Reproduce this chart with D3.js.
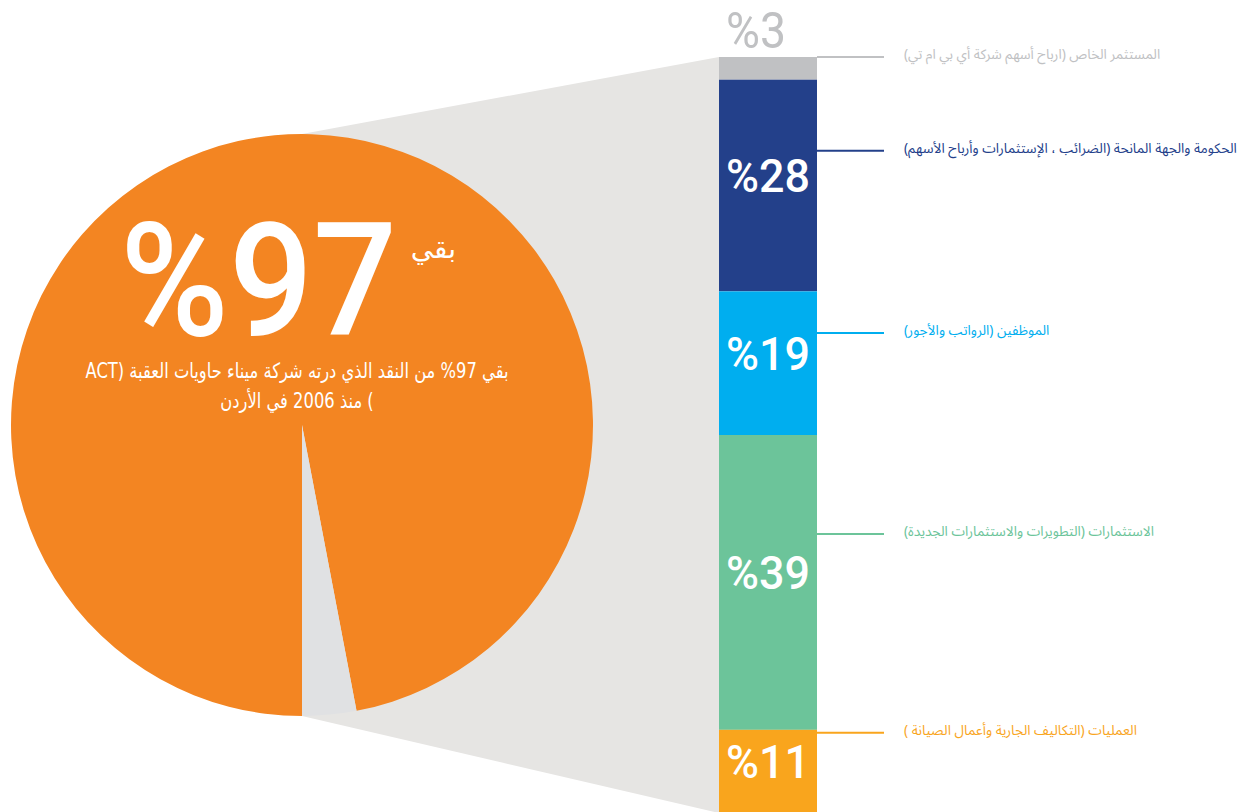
<!DOCTYPE html>
<meta charset="utf-8">
<style>
  body { margin: 0; background: #fff; }
  svg { display: block; }
  .num { font-family: Roboto, "Liberation Sans", sans-serif; fill: #fff; }
  .label { font-family: "Noto Sans Arabic", "DejaVu Sans", sans-serif; font-size: 13.7px; }
  .note { font-family: "DejaVu Sans", sans-serif; fill: #fff; }
</style>
<svg width="1253" height="812"></svg>
<script src="https://d3js.org/d3.v7.min.js"></script>
<script>
  // pie: what stayed in the country vs. private investor
  var pieKeys = ["kept", "investor"];
  var pieValues = [97, 3];
  var pieColors = ["#f38522", "#e0e1e3"];

  // stacked bar, top to bottom
  var barLabels = [
    "المستثمر الخاص (ارباح أسهم شركة أي بي ام تي)",
    "الحكومة والجهة المانحة (الضرائب ، الإستثمارات وأرباح الأسهم)",
    "الموظفين (الرواتب والأجور)",
    "الاستثمارات (التطويرات والاستثمارات الجديدة)",
    "العمليات (التكاليف الجارية وأعمال الصيانة )"
  ];
  var barValues = [3, 28, 19, 39, 11];
  var barColors = ["#c0c1c3", "#23408a", "#00aeef", "#6cc49a", "#f9a51d"];
  // where each leader line meets the bar, in percent from the top
  var leaderAt = [0, 12.4, 36.5, 63.1, 89.4];

  var svg = d3.select("svg");

  var cx = 302, cy = 425, r = 291;
  var barX = 719, barW = 98, lineEnd = 884, textX = 904;

  var y = d3.scaleLinear().domain([0, 100]).range([57, 813]);

  // grey funnel behind the pie
  svg.append("path")
    .attr("d", d3.line()([
      [cx, cy - r], [barX, y(0)], [barX, y(100)], [cx, cy + r]
    ]))
    .attr("fill", "#e6e5e3");

  var pie = d3.pie().sort(null)
    .startAngle(Math.PI).endAngle(3 * Math.PI);
  var arc = d3.arc().innerRadius(0).outerRadius(r);

  svg.append("g")
    .attr("transform", "translate(" + cx + "," + cy + ")")
    .selectAll("path")
    .data(pie(pieValues))
    .join("path")
    .attr("d", arc)
    .attr("fill", function(d, i) { return pieColors[i]; });

  // big figure inside the pie
  svg.append("text")
    .attr("class", "num")
    .attr("x", 397).attr("y", 335)
    .attr("text-anchor", "end")
    .attr("font-size", 158)
    .attr("font-weight", 500)
    .attr("textLength", 277)
    .attr("lengthAdjust", "spacingAndGlyphs")
    .text("%" + pieValues[0]);

  svg.append("text")
    .attr("class", "note")
    .attr("x", 456).attr("y", 258)
    .attr("direction", "rtl")
    .attr("font-size", 28)
    .text("بقي");

  var noteLines = [
    "بقي 97% من النقد الذي درته شركة ميناء حاويات العقبة (ACT",
    ") منذ 2006 في الأردن"
  ];
  var notes = svg.append("g").selectAll("text")
    .data(noteLines)
    .join("text")
    .attr("class", "note")
    .attr("x", 297)
    .attr("y", function(d, i) { return 378 + i * 30; })
    .attr("direction", "rtl")
    .attr("text-anchor", "middle")
    .attr("font-size", 21)
    .text(function(d) { return d; });
  // squeeze the note so the first line is as wide as in the original
  var k = 423 / notes.node().getComputedTextLength();
  notes.each(function() {
    d3.select(this)
      .attr("textLength", this.getComputedTextLength() * k)
      .attr("lengthAdjust", "spacingAndGlyphs");
  });

  // stacked bar
  var cum = d3.cumsum(barValues);
  var segs = barValues.map(function(v, i) {
    return { v: v, y0: cum[i] - v, y1: cum[i], i: i };
  });

  var bar = svg.append("g");
  bar.selectAll("rect")
    .data(segs)
    .join("rect")
    .attr("x", barX)
    .attr("width", barW)
    .attr("y", function(d) { return y(d.y0); })
    .attr("height", function(d) { return y(d.y1) - y(d.y0); })
    .attr("fill", function(d) { return barColors[d.i]; });

  bar.selectAll("text")
    .data(segs.filter(function(d) { return d.i > 0; }))
    .join("text")
    .attr("class", "num")
    .attr("x", barX + barW / 2)
    .attr("y", function(d) { return (y(d.y0) + y(d.y1)) / 2 - 10; })
    .attr("dy", "0.36em")
    .attr("text-anchor", "middle")
    .attr("font-size", 47)
    .attr("font-weight", 500)
    .attr("textLength", 84)
    .attr("lengthAdjust", "spacingAndGlyphs")
    .text(function(d) { return "%" + d.v; });

  // small slice gets its number above the bar
  svg.append("text")
    .attr("class", "num")
    .attr("x", 756).attr("y", 48)
    .attr("text-anchor", "middle")
    .attr("font-size", 50)
    .attr("textLength", 60)
    .attr("lengthAdjust", "spacingAndGlyphs")
    .style("fill", barColors[0])
    .text("%" + barValues[0]);

  // leader lines and labels
  var lab = svg.append("g").selectAll("g")
    .data(barLabels)
    .join("g")
    .attr("transform", function(d, i) { return "translate(0," + y(leaderAt[i]) + ")"; });

  lab.append("line")
    .attr("x1", barX + barW).attr("x2", lineEnd)
    .attr("stroke", function(d, i) { return barColors[i]; })
    .attr("stroke-width", 2);

  lab.append("text")
    .attr("class", "label")
    .attr("x", textX)
    .attr("y", -3)
    .attr("dy", "0.35em")
    .attr("direction", "rtl")
    .attr("text-anchor", "end")
    .attr("fill", function(d, i) { return barColors[i]; })
    .text(function(d) { return d; });
</script>
